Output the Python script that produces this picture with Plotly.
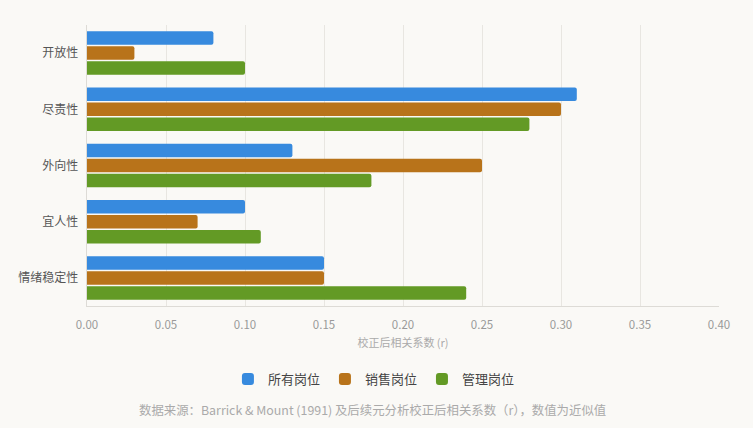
import plotly.graph_objects as go

traits = ["开放性", "尽责性", "外向性", "宜人性", "情绪稳定性"]
all_jobs = [0.08, 0.31, 0.13, 0.10, 0.15]
sales_jobs = [0.03, 0.30, 0.25, 0.07, 0.15]
mgmt_jobs = [0.10, 0.28, 0.18, 0.11, 0.24]

series = [
    ("所有岗位", all_jobs, "#378ADE"),
    ("销售岗位", sales_jobs, "#B8731A"),
    ("管理岗位", mgmt_jobs, "#639A25"),
]

fig = go.Figure()
for name, vals, color in series:
    fig.add_trace(go.Bar(
        y=traits,
        x=vals,
        name=name,
        orientation="h",
        marker=dict(color=color, line=dict(width=0)),
    ))

fig.update_layout(
    width=753,
    height=428,
    barmode="group",
    bargap=0.2,
    bargroupgap=0.1,
    barcornerradius=2,
    paper_bgcolor="#FAF9F6",
    plot_bgcolor="#FAF9F6",
    font=dict(family="Noto Sans CJK SC, Noto Sans, sans-serif", color="#555"),
    margin=dict(l=87, r=34, t=25, b=122),
    legend=dict(
        orientation="h",
        x=0.454, xanchor="center",
        y=-0.26, yanchor="middle",
        font=dict(size=13, color="#444"),
        itemwidth=30,
    ),
    xaxis=dict(
        range=[0, 0.40],
        dtick=0.05,
        tickformat=".2f",
        showgrid=True,
        gridcolor="#E8E6E1",
        zeroline=False,
        showline=True,
        linecolor="#DDDBD6",
        ticks="outside",
        ticklen=8,
        tickcolor="#FAF9F6",
        tickfont=dict(size=11.5, color="#999"),
        title=dict(text="校正后相关系数 (r)", font=dict(size=11, color="#AAA"), standoff=8),
    ),
    yaxis=dict(
        autorange="reversed",
        showline=True,
        linecolor="#DDDBD6",
        tickfont=dict(size=12, color="#555"),
        ticksuffix="  ",
    ),
    annotations=[dict(
        text="数据来源：Barrick & Mount (1991) 及后续元分析校正后相关系数（r），数值为近似值",
        xref="paper", yref="paper",
        x=0.4525, y=-0.37, xanchor="center", yanchor="middle",
        showarrow=False,
        font=dict(size=12.4, color="#AAA"),
    )],
)

# drop the default page margin so the figure fills the window
fig.write_html(
    "out.html",
    config={"displayModeBar": False},
    post_script="document.body.style.margin='0';document.body.style.background='#FAF9F6';",
)
